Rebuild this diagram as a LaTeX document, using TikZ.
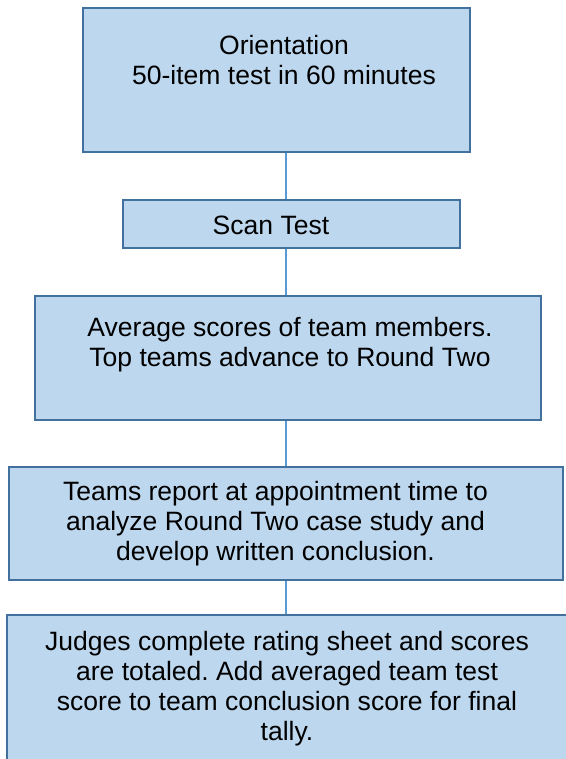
\documentclass[tikz,border=0pt]{standalone}
\usepackage{fontspec}
\setmainfont{Liberation Sans}
\frenchspacing
\definecolor{boxfill}{HTML}{BDD7EE}
\definecolor{boxline}{HTML}{41719C}
\definecolor{linkc}{HTML}{5B9BD5}
\begin{document}
\begin{tikzpicture}[x=0.75pt,y=-0.75pt,
 box/.style={draw=boxline, fill=boxfill, line width=1.5pt, inner sep=0pt},
 txt/.style={align=center, font=\fontsize{19.9}{22.5}\selectfont\frenchspacing, inner sep=0pt, text=black},
 link/.style={draw=linkc, line width=0.8pt}]
\useasboundingbox (0,0) rectangle (566,759);
\clip (0,0) rectangle (566,759);
\node[box, minimum width=290.25pt, minimum height=108pt] (b1) at (276.5,80) {};
\node[box, minimum width=252.75pt, minimum height=36pt] (b2) at (291.5,224) {};
\node[box, minimum width=379.5pt, minimum height=93pt] (b3) at (288,358) {};
\node[box, minimum width=415.5pt, minimum height=84.75pt] (b4) at (286,523.5) {};
\node[box, minimum width=429.75pt, minimum height=123.75pt] (b5) at (293.5,697.5) {};
\coordinate (spine) at (286,0);
\draw[link] (b1.south -| spine) -- (b2.north -| spine);
\draw[link] (b2.south -| spine) -- (b3.north -| spine);
\draw[link] (b3.south -| spine) -- (b4.north -| spine);
\draw[link] (b4.south -| spine) -- (b5.north -| spine);
\node[txt] (t1) at (284,60) {Orientation\\50-item test in 60 minutes};
\node[txt] (t2) at (271,225) {Scan Test};
\node[txt] (t3) at (290,344.5) {Average scores of team members.\\Top teams advance to Round Two};
\node[txt] (t4) at (275.5,524) {Teams report at appointment time to\\analyze Round Two case study and\\develop written conclusion.};
\node[txt] (t5) at (287,689) {Judges complete rating sheet and scores\\are totaled. Add averaged team test\\score to team conclusion score for final\\tally.};
\end{tikzpicture}
\end{document}
